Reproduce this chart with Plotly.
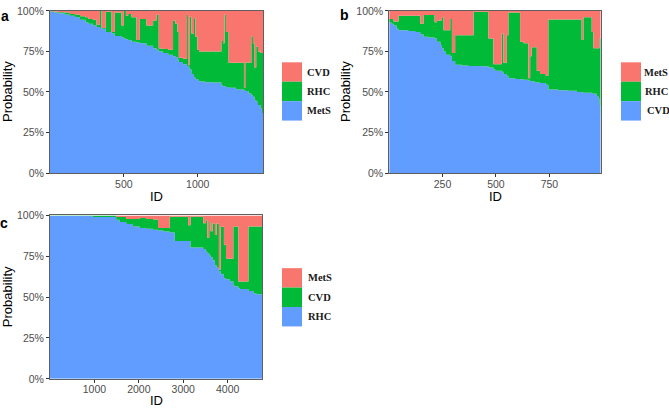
import plotly.graph_objects as go

W, H = 669, 413

# ---------------- Panel a (MetS / RHC / CVD) ----------------
a_id = [0, 30, 56, 100, 135, 170, 203, 240, 259, 290, 315, 338, 349, 378, 417, 439, 484, 500,
        514, 529, 552, 586, 608, 653, 698, 721, 736, 766, 800, 833, 849, 863, 872, 900, 928,
        935, 944, 957, 975, 984, 998, 1009, 1050, 1105, 1160, 1171, 1182, 1191, 1209, 1260,
        1313, 1322, 1345, 1363, 1374, 1385, 1396, 1408, 1425, 1435]
a_mets = [99.5, 99.0, 98.5, 97.8, 97.0, 96.0, 94.5, 93.0, 92.0, 91.0, 90.0, 89.5, 89.0, 87.0,
          86.0, 84.5, 83.5, 83.0, 82.5, 82.0, 81.0, 80.5, 80.0, 78.5, 77.0, 76.0, 75.0, 74.0,
          73.0, 72.0, 71.5, 70.0, 68.5, 67.0, 66.0, 65.5, 64.0, 61.0, 59.0, 58.0, 57.5, 56.5,
          56.0, 55.8, 54.0, 53.5, 53.5, 53.0, 52.5, 51.5, 51.0, 50.5, 49.0, 48.0, 47.0, 45.0,
          44.0, 42.0, 40.0, 37.0]
a_rhc = [0.3, 0.5, 0.7, 1.2, 1.0, 1.8, 2.1, 3.0, 3.0, 3.5, 1.5, 10.5, 0.5, 12.4, 1.0, 14.5,
         7.5, 17.0, 14.5, 16.0, 15.0, 1.5, 15.0, 12.5, 17.0, 21.6, 1.8, 2.5, 3.0, 22.0, 20.5,
         17.0, 2.5, 3.5, 31.6, 1.0, 32.4, 25.0, 36.4, 26.0, 18.5, 18.5, 19.0, 19.2, 27.8, 26.5,
         44.1, 34.0, 15.5, 16.5, 1.5, 17.7, 19.0, 36.3, 33.0, 20.0, 33.8, 33.0, 34.0, 37.0]
a_cvd = [0.2, 0.5, 0.8, 1.0, 2.0, 2.2, 3.4, 4.0, 5.0, 5.5, 8.5, 0.0, 10.5, 0.6, 13.0, 1.0,
         9.0, 0.0, 3.0, 2.0, 4.0, 18.0, 5.0, 9.0, 6.0, 2.4, 23.2, 23.5, 24.0, 6.0, 8.0, 13.0,
         29.0, 29.5, 2.4, 33.5, 3.6, 14.0, 4.6, 16.0, 24.0, 25.0, 25.0, 25.0, 18.2, 20.0, 2.4,
         13.0, 32.0, 32.0, 47.5, 31.8, 32.0, 15.7, 20.0, 35.0, 22.2, 25.0, 26.0, 26.0]
a_end = 1442
a_xticks = [500, 1000]
a_labels = ["CVD", "RHC", "MetS"]

# ---------------- Panel b (CVD / RHC / MetS) ----------------
b_id = [0, 10, 21, 35, 44, 90, 122, 146, 161, 185, 213, 224, 240, 247, 255, 266, 286, 294,
        309, 340, 371, 395, 430, 465, 488, 496, 527, 535, 551, 558, 590, 613, 629, 652, 660,
        667, 683, 691, 706, 733, 745, 790, 838, 879, 901, 909, 948, 956, 972, 979, 984, 988]
b_cvd = [93.0, 92.0, 91.0, 89.0, 88.0, 87.5, 87.0, 85.5, 84.0, 83.5, 83.0, 81.0, 79.0, 77.0,
         75.0, 73.0, 72.0, 69.0, 66.7, 66.3, 66.0, 66.0, 65.8, 65.0, 64.0, 63.0, 62.5, 61.0,
         60.0, 58.5, 58.0, 57.8, 57.5, 57.0, 56.8, 56.5, 56.0, 55.8, 55.5, 54.5, 51.5, 51.0,
         50.8, 50.0, 49.6, 49.5, 49.0, 48.8, 47.5, 46.0, 42.0, 36.0]
b_rhc = [2.0, 3.0, 2.4, 4.4, 9.0, 9.5, 10.0, 6.5, 13.4, 13.9, 10.0, 13.0, 15.0, 19.0, 13.0,
         15.0, 23.0, 5.0, 18.3, 18.7, 19.0, 33.4, 33.6, 18.0, 3.0, 4.0, 23.5, 7.0, 25.0, 40.5,
         41.0, 23.2, 22.5, 1.5, 15.2, 21.0, 21.5, 7.2, 5.5, 5.5, 43.1, 43.6, 43.8, 44.6, 32.4,
         46.5, 38.0, 28.2, 29.5, 31.0, 41.0, 47.0]
b_mets = [5.0, 5.0, 6.6, 6.6, 3.0, 3.0, 3.0, 8.0, 2.6, 2.6, 7.0, 6.0, 6.0, 4.0, 12.0, 12.0,
          5.0, 26.0, 15.0, 15.0, 15.0, 0.6, 0.6, 17.0, 33.0, 33.0, 14.0, 32.0, 15.0, 1.0, 1.0,
          19.0, 20.0, 41.5, 28.0, 22.5, 22.5, 37.0, 39.0, 40.0, 5.4, 5.4, 5.4, 5.4, 18.0, 4.0,
          13.0, 23.0, 23.0, 23.0, 17.0, 17.0]
b_end = 990
b_xticks = [250, 500, 750]
b_labels = ["MetS", "RHC", "CVD"]

# ---------------- Panel c (RHC / CVD / MetS) ----------------
c_id = [0, 960, 1490, 1565, 1716, 1867, 2017, 2168, 2319, 2432, 2550, 2696, 2809, 3110, 3163,
        3449, 3509, 3540, 3585, 3615, 3660, 3713, 3750, 3803, 3841, 3916, 3962, 4052, 4127,
        4165, 4240, 4278, 4467, 4580, 4650]
c_rhc = [99.6, 99.0, 97.4, 96.0, 94.7, 93.3, 92.3, 91.9, 91.3, 90.8, 90.2, 89.5, 84.4, 84.4,
         80.4, 79.5, 78.0, 77.0, 75.5, 74.5, 72.5, 69.5, 68.0, 66.0, 64.0, 61.6, 61.0, 59.6,
         57.0, 56.6, 55.5, 55.0, 53.7, 52.3, 51.7]
c_cvd = [0.4, 1.0, 1.6, 3.0, 3.1, 4.5, 6.1, 5.9, 6.2, 1.5, 2.1, 9.7, 14.8, 9.6, 18.8, 15.7,
         19.0, 9.3, 20.5, 15.8, 22.5, 18.5, 27.0, 0.7, 29.0, 20.4, 12.5, 13.9, 36.3, 36.7, 4.1,
         4.6, 39.6, 41.0, 41.6]
c_mets = [0.0, 0.0, 1.0, 1.0, 2.2, 2.2, 1.6, 2.2, 2.5, 7.7, 7.7, 0.8, 0.8, 6.0, 0.8, 4.8,
          3.0, 13.7, 4.0, 9.7, 5.0, 12.0, 5.0, 33.3, 7.0, 18.0, 26.5, 26.5, 6.7, 6.7, 40.4,
          40.4, 6.7, 6.7, 6.7]
c_end = 4780
c_xticks = [1000, 2000, 3000, 4000]
c_labels = ["MetS", "CVD", "RHC"]

y_ticks = [0, 25, 50, 75, 100]
y_ticktext = ["0%", "25%", "50%", "75%", "100%"]

RED, GREEN, BLUE = "#F8766D", "#00BA38", "#619CFF"


def px(x):
    return x / W


def py(y):
    return 1 - y / H


fig = go.Figure()


def add_panel(ids, end, series, xa, ya, group):
    xs = list(ids) + [end]
    for vals, color in series:
        ys = list(vals) + [vals[-1]]
        fig.add_trace(go.Scatter(
            x=xs, y=ys, mode="lines", stackgroup=group,
            line=dict(width=0, shape="hv", color=color), fillcolor=color,
            xaxis=xa, yaxis=ya, showlegend=False, hoverinfo="skip"))


add_panel(a_id, a_end, [(a_mets, BLUE), (a_rhc, GREEN), (a_cvd, RED)], "x", "y", "a")
add_panel(b_id, b_end, [(b_cvd, BLUE), (b_rhc, GREEN), (b_mets, RED)], "x2", "y2", "b")
add_panel(c_id, c_end, [(c_rhc, BLUE), (c_cvd, GREEN), (c_mets, RED)], "x3", "y3", "c")

axis_common = dict(showgrid=False, zeroline=False, showline=True, mirror=True,
                   linecolor="#5f5f5f", linewidth=1, ticks="outside", ticklen=3,
                   tickcolor="#333333", tickwidth=1,
                   tickfont=dict(family="Liberation Sans, Arial", size=10.5, color="#4d4d4d"))

ytop_a, ybot_a = 5, 172
ytop_c, ybot_c = 215.7, 384

yax = dict(range=[0, 100], tickmode="array", tickvals=y_ticks, ticktext=y_ticktext, **axis_common)
xax = dict(ticklabelstandoff=-2, **axis_common)

fig.update_layout(
    width=W, height=H, margin=dict(l=0, r=0, t=0, b=0),
    paper_bgcolor="white", plot_bgcolor="white", showlegend=False,
    xaxis=dict(domain=[px(50), px(263)], range=[0, a_end], tickvals=a_xticks, anchor="y", **xax),
    yaxis=dict(domain=[py(ybot_a), py(ytop_a)], anchor="x", **yax),
    xaxis2=dict(domain=[px(389.3), px(600.7)], range=[1, b_end], tickvals=b_xticks, anchor="y2", **xax),
    yaxis2=dict(domain=[py(ybot_a), py(ytop_a)], anchor="x2", **yax),
    xaxis3=dict(domain=[px(50), px(262.3)], range=[0, c_end], tickvals=c_xticks, anchor="y3", **xax),
    yaxis3=dict(domain=[py(ybot_c), py(ytop_c)], anchor="x3", **yax),
)

title_font = dict(family="Liberation Sans, Arial", size=13, color="black")
tag_font = dict(family="Liberation Sans, Arial", size=14, color="black")
leg_font = dict(family="Liberation Serif, Times New Roman", size=10.5, color="#1a1a1a")

annotations = []
shapes = []


def ann(x, y, text, font, xanchor="center", angle=0, bold=False):
    annotations.append(dict(x=px(x), y=py(y), xref="paper", yref="paper",
                            text=("<b>%s</b>" % text) if bold else text,
                            showarrow=False, font=font, xanchor=xanchor, yanchor="middle",
                            textangle=angle))


# axis titles
ann(8, (ytop_a + ybot_a) / 2, "Probability", title_font, angle=-90)
ann(156.5, 196, "ID", title_font)
ann(346, (ytop_a + ybot_a) / 2, "Probability", title_font, angle=-90)
ann(495, 196, "ID", title_font)
ann(7, (ytop_c + ybot_c) / 2, "Probability", title_font, angle=-90)
ann(156, 406, "ID", title_font)

# panel tags
ann(5, 10, "a", tag_font, bold=True)
ann(344, 9, "b", tag_font, bold=True)
ann(4, 224, "c", tag_font, bold=True)


def legend(x0, y0, labels, colors, text_x):
    for i, (lab, col) in enumerate(zip(labels, colors)):
        top = y0 + 20 * i
        shapes.append(dict(type="rect", xref="paper", yref="paper",
                           x0=px(x0), x1=px(x0 + 20), y0=py(top + 20), y1=py(top),
                           fillcolor=col, line=dict(width=0)))
        ann(text_x[i], top + 10, lab, leg_font, xanchor="left", bold=True)


legend(282, 58, a_labels, [RED, GREEN, BLUE], [305, 305, 305])
legend(621, 58, b_labels, [RED, GREEN, BLUE], [642, 642.5, 644.5])
legend(282, 270, c_labels, [RED, GREEN, BLUE], [306, 306, 306])

fig.update_layout(annotations=annotations, shapes=shapes)

fig.write_html("out.html")
